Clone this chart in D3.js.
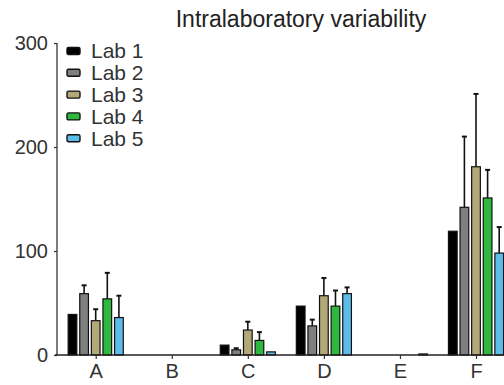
<!DOCTYPE html>
<html>
<head>
<meta charset="utf-8">
<script src="https://cdn.jsdelivr.net/npm/d3@7"></script>
<style>
  html, body { margin: 0; padding: 0; background: #fff; }
  svg { display: block; font-family: "Liberation Sans", Arial, Helvetica, sans-serif; }
</style>
</head>
<body>
<svg id="chart" width="504" height="385"></svg>
<script>
const categories = ["A", "B", "C", "D", "E", "F"];
const labs = ["Lab 1", "Lab 2", "Lab 3", "Lab 4", "Lab 5"];
const colors = ["#000000", "#7f7f7f", "#b3a878", "#2fb83f", "#5bbde8"];
// mean values per lab (index = category)
const lab1 = [39, 0, 9.5, 47, 0, 119];
const lab2 = [59, 0, 5, 28, 0, 142];
const lab3 = [33, 0, 24, 57, 0, 181];
const lab4 = [54, 0, 14, 47, 0, 151];
const lab5 = [36, 0, 3, 59, 1, 98];
// upper error bar ends (null = none)
const lab1Err = [null, null, null, null, null, null];
const lab2Err = [67, null, 6.5, 34, null, 210];
const lab3Err = [44, null, 32, 74, null, 251];
const lab4Err = [79, null, 22, 62, null, 178];
const lab5Err = [57, null, null, 65, null, 123];
const yTicks = [0, 100, 200, 300];
const title = "Intralaboratory variability";

const values = [lab1, lab2, lab3, lab4, lab5];
const errs = [lab1Err, lab2Err, lab3Err, lab4Err, lab5Err];

const svg = d3.select("#chart");
const fontSize = 20;

const y = d3.scaleLinear().domain([0, 300]).range([355, 43]);
const x = d3.scalePoint().domain(categories).range([95.7, 476]);
const xLab = d3.scaleBand().domain(labs).range([-29, 29]).paddingInner(0.25).paddingOuter(0.125);

// title
svg.append("text")
  .attr("x", 301).attr("y", 27)
  .attr("text-anchor", "middle")
  .attr("font-size", 23)
  .attr("fill", "#222")
  .text(title);

// bars
const data = [];
categories.forEach((c, ci) => {
  labs.forEach((l, li) => {
    data.push({ c, l, li, v: values[li][ci], e: errs[li][ci] });
  });
});

const g = svg.append("g");
// error bars
g.selectAll("line.err").data(data.filter(d => d.e != null)).join("line")
  .attr("class", "err")
  .attr("x1", d => x(d.c) + xLab(d.l) + xLab.bandwidth() / 2)
  .attr("x2", d => x(d.c) + xLab(d.l) + xLab.bandwidth() / 2)
  .attr("y1", d => y(d.v))
  .attr("y2", d => y(d.e))
  .attr("stroke", "#111").attr("stroke-width", 1.6);
g.selectAll("line.cap").data(data.filter(d => d.e != null)).join("line")
  .attr("class", "cap")
  .attr("x1", d => x(d.c) + xLab(d.l) + xLab.bandwidth() / 2 - 2.5)
  .attr("x2", d => x(d.c) + xLab(d.l) + xLab.bandwidth() / 2 + 2.5)
  .attr("y1", d => y(d.e))
  .attr("y2", d => y(d.e))
  .attr("stroke", "#111").attr("stroke-width", 2);

g.selectAll("rect.bar").data(data.filter(d => d.v > 0)).join("rect")
  .attr("class", "bar")
  .attr("x", d => x(d.c) + xLab(d.l))
  .attr("width", xLab.bandwidth())
  .attr("y", d => y(d.v))
  .attr("height", d => y(0) - y(d.v))
  .attr("fill", d => colors[d.li])
  .attr("stroke", "#111").attr("stroke-width", 1.2);

// y axis
const yAxis = d3.axisLeft(y).tickValues(yTicks).tickSize(3).tickPadding(6).tickFormat(d3.format("d"));
const yg = svg.append("g").attr("transform", "translate(57,0)").call(yAxis);
yg.select(".domain").attr("d", `M0,${y(300)}V${y(0)}`).attr("stroke", "#333").attr("stroke-width", 1.3);
yg.selectAll(".tick line").attr("stroke", "#333").attr("stroke-width", 1.2);
yg.selectAll(".tick text").attr("font-size", fontSize).attr("fill", "#333").attr("font-family", "Liberation Sans, Arial, sans-serif");

// x axis
const xAxis = d3.axisBottom(x).tickSize(4).tickPadding(5);
const xg = svg.append("g").attr("transform", `translate(0,${y(0)})`).call(xAxis);
xg.select(".domain").attr("d", "M55,0H504").attr("stroke", "#222").attr("stroke-width", 1.5);
xg.selectAll(".tick line").attr("stroke", "#333").attr("stroke-width", 1.2);
xg.selectAll(".tick text").attr("font-size", fontSize).attr("fill", "#333").attr("font-family", "Liberation Sans, Arial, sans-serif");

// legend
const leg = svg.append("g");
const legItems = leg.selectAll("g").data(labs).join("g")
  .attr("transform", (d, i) => `translate(67,${51 + i * 21.8})`);
legItems.append("rect")
  .attr("x", 0).attr("y", -3.5).attr("width", 13).attr("height", 7)
  .attr("rx", 1.5)
  .attr("fill", (d, i) => colors[i])
  .attr("stroke", "#111").attr("stroke-width", 1.4);
legItems.append("text")
  .attr("x", 24).attr("y", 0)
  .attr("dy", "0.35em")
  .attr("font-size", 21)
  .attr("fill", "#333")
  .text(d => d);
</script>
</body>
</html>
